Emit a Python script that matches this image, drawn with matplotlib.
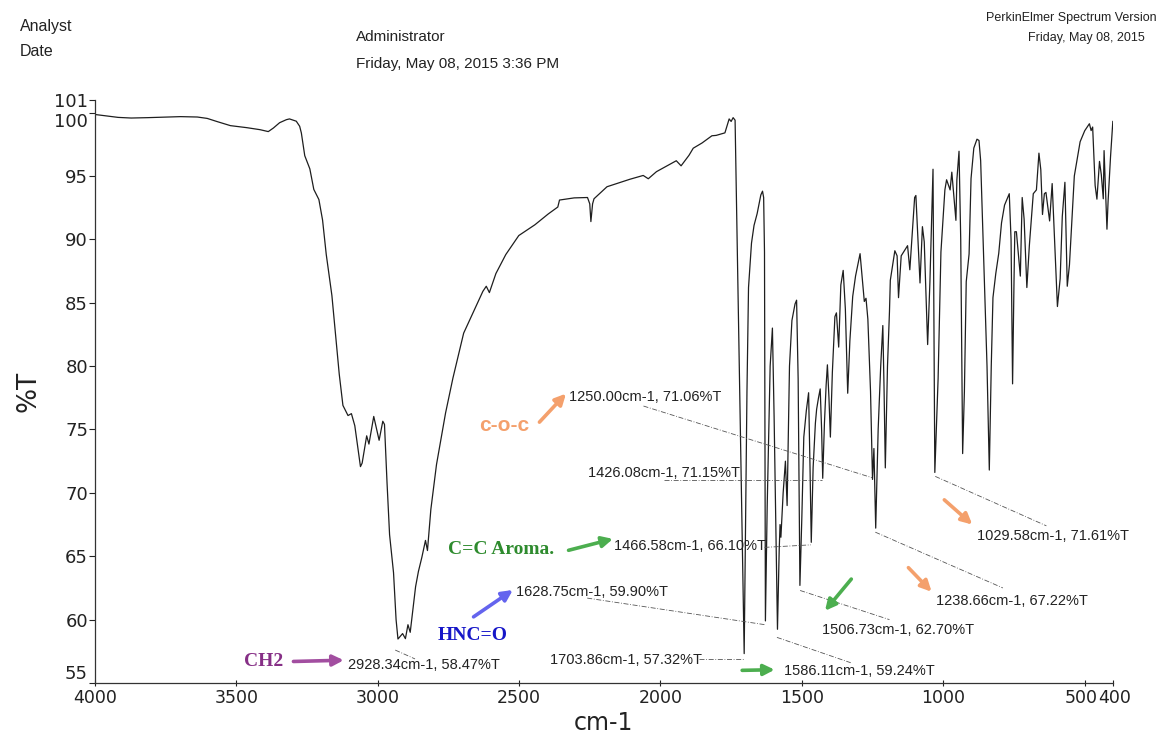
import matplotlib.pyplot as plt
from matplotlib.transforms import ScaledTranslation

# IR spectrum (wavenumber in cm-1, %T)
wavenumber = [
    4000, 3918, 3872, 3813, 3755, 3697, 3638, 3603, 3568, 3521, 3463, 3416, 3387,
    3369, 3347, 3323, 3312, 3288, 3276, 3270, 3258, 3240, 3226, 3208, 3195, 3182,
    3162, 3136, 3123, 3105, 3093, 3081, 3061, 3055, 3039, 3031, 3014, 2995, 2982,
    2976, 2967, 2958, 2944, 2935, 2928.34, 2912, 2902, 2893, 2885, 2877, 2866, 2856,
    2844, 2831, 2824, 2812, 2792, 2760, 2734, 2696, 2628, 2616, 2605, 2582, 2547,
    2501, 2444, 2397, 2363, 2357, 2305, 2258, 2250, 2246, 2240, 2235, 2189, 2108,
    2061, 2043, 2014, 1944, 1927, 1899, 1884, 1853, 1818, 1803, 1772, 1765, 1757,
    1750, 1743, 1736,
    1703.86, 1694, 1688.5, 1678, 1669, 1658, 1645, 1639, 1635, 1632, 1628.75,
    1622.5, 1612, 1604, 1598, 1586.11, 1580, 1577, 1574, 1566, 1558, 1552, 1546,
    1543.6, 1535, 1524, 1518.5, 1513, 1506.73, 1500, 1493, 1484, 1476, 1471,
    1466.58, 1460, 1452, 1447.6, 1441, 1435, 1430, 1426.08, 1420, 1414, 1409.5,
    1404, 1399, 1392, 1383, 1377.6, 1369.6, 1362, 1353.7, 1346, 1337.7, 1330,
    1320, 1310, 1294, 1279, 1273, 1266.4, 1257, 1250.00, 1245, 1238.66, 1230,
    1221, 1213.5, 1209, 1204.7, 1197, 1190, 1187, 1171, 1163, 1158, 1148.5, 1126,
    1118, 1101, 1096.6, 1082, 1073.5, 1067, 1055, 1047, 1036, 1029.58, 1018, 1008,
    994, 988, 975.5, 969.5, 955, 951.6, 944, 938, 931.2, 925, 918.5, 908.4, 901.5,
    891.7, 880.5, 873.4, 867.5, 854.3, 845, 836.9, 830, 824, 814, 803.5, 793.7,
    783, 777.4, 766.3, 760, 754.6, 749.5, 746.7, 741.1, 727.2, 720.6, 713.8, 704.1,
    695.3, 681.4, 670.3, 661.4, 654.8, 648.8, 642.2, 636.6, 623.6, 614.6, 596,
    586.3, 578.8, 569.5, 561.2, 553.4, 536.2, 515.7, 499.4, 482.9, 476.8, 471.4,
    462.6, 456.3, 447.2, 440.8, 433.8, 431, 420.8, 416.8, 408.2, 400,
]
transmittance = [
    99.85, 99.62, 99.57, 99.60, 99.64, 99.68, 99.65, 99.54, 99.29, 98.97, 98.81, 98.65, 98.50,
    98.78, 99.20, 99.44, 99.50, 99.32, 98.92, 98.39, 96.60, 95.56, 93.94, 93.14, 91.52, 88.81,
    85.57, 79.36, 76.90, 76.10, 76.25, 75.30, 72.07, 72.35, 74.50, 73.85, 76.03, 74.15, 75.65,
    75.40, 70.80, 66.70, 63.70, 60.00, 58.47, 58.90, 58.50, 59.60, 59.00, 60.50, 62.60, 63.80,
    64.90, 66.25, 65.45, 68.70, 72.24, 76.30, 79.05, 82.60, 85.90, 86.30, 85.80, 87.30, 88.80,
    90.30, 91.15, 92.00, 92.55, 93.10, 93.27, 93.30, 92.80, 91.40, 92.80, 93.20, 94.15, 94.74,
    95.04, 94.78, 95.34, 96.20, 95.80, 96.63, 97.19, 97.60, 98.17, 98.20, 98.40, 98.90, 99.50,
    99.30, 99.60, 99.40,
    57.32, 78.0, 86.2, 89.7, 91.1, 92.03, 93.5, 93.8, 93.3, 89.0, 59.90,
    68.9, 80.0, 83.0, 76.0, 59.24, 65.5, 67.5, 66.5, 70.0, 72.5, 69.0, 77.0,
    80.0, 83.6, 84.9, 85.2, 79.0, 62.70, 68.0, 74.4, 76.5, 77.9, 72.0,
    66.10, 72.0, 75.5, 76.6, 77.5, 78.2, 75.0, 71.15, 75.5, 78.5, 80.1,
    77.5, 74.4, 79.5, 83.9, 84.2, 81.5, 86.4, 87.55, 84.5, 77.86, 82.0,
    85.5, 87.1, 88.87, 85.1, 85.35, 83.7, 78.0, 71.06, 73.5, 67.22, 75.0,
    80.0, 83.2, 78.0, 71.97, 80.0, 84.3, 86.77, 89.1, 88.7, 85.4, 88.7, 89.5,
    87.6, 93.3, 93.46, 86.56, 91.0, 89.8, 81.7, 86.6, 95.53, 71.61, 79.0, 89.0,
    93.9, 94.7, 93.9, 95.3, 91.5, 94.7, 96.95, 90.0, 73.10, 78.0, 86.66, 88.85, 94.8,
    97.2, 97.9, 97.8, 96.2, 86.7, 80.0, 71.80, 80.0, 85.4, 87.3, 88.9, 91.3,
    92.7, 93.0, 93.6, 90.0, 78.60, 86.76, 90.6, 90.6, 87.1, 93.3, 91.6, 86.2,
    89.5, 93.6, 93.9, 96.8, 95.5, 91.96, 93.6, 93.7, 91.45, 94.4, 84.7,
    86.9, 91.8, 94.5, 86.3, 88.0, 95.0, 97.7, 98.57, 99.12, 98.58, 98.86,
    94.25, 93.17, 96.15, 95.1, 93.2, 97.0, 90.8, 93.0, 96.5, 99.3,
]

# peaks picked by the instrument software
peak_wn = [2928.34, 1703.86, 1628.75, 1586.11, 1506.73, 1466.58, 1426.08, 1250.00, 1238.66, 1029.58]
peak_T = [58.47, 57.32, 59.90, 59.24, 62.70, 66.10, 71.15, 71.06, 67.22, 71.61]

x_ticks = [4000, 3500, 3000, 2500, 2000, 1500, 1000, 500, 400]
y_ticks = [55, 60, 65, 70, 75, 80, 85, 90, 95, 100, 101]

PURPLE = '#a24ea0'
ORANGE = '#f4a06c'
GREEN = '#4cae4f'
BLUE = '#6464ee'

fig = plt.figure(figsize=(11.58, 7.4), dpi=100)
ax = fig.add_axes([0.082, 0.077, 0.879, 0.788])

ax.plot(wavenumber, transmittance, color='#1e1e1e', lw=0.9)

ax.set_xlim(4000, 400)
ax.set_ylim(55, 101)
ax.set_xticks(x_ticks)
ax.set_xticklabels([str(t) for t in x_ticks])
ax.set_yticks(y_ticks)
ax.set_yticklabels([str(t) for t in y_ticks])
for sp in ['top', 'right']:
    ax.spines[sp].set_visible(False)
for sp in ['left', 'bottom']:
    ax.spines[sp].set_color('#333333')
    ax.spines[sp].set_linewidth(0.9)
ax.tick_params(axis='y', direction='out', length=4, width=0.8, labelsize=13, pad=1, colors='#222222')
ax.tick_params(axis='x', direction='inout', length=5, width=0.8, labelsize=12.5, pad=2, colors='#222222')

# crowded corners, nudged like on the printout
yt = ax.yaxis.get_major_ticks()
yt[y_ticks.index(100)].label1.set_va('top')
yt[y_ticks.index(55)].label1.set_va('bottom')
xt = ax.xaxis.get_major_ticks()
lab500 = xt[x_ticks.index(500)].label1
lab400 = xt[x_ticks.index(400)].label1
lab500.set_transform(lab500.get_transform() + ScaledTranslation(-2.5 / 72, 0, fig.dpi_scale_trans))
lab400.set_transform(lab400.get_transform() + ScaledTranslation(1.5 / 72, 0, fig.dpi_scale_trans))

ax.set_ylabel('%T', fontsize=19, labelpad=9, color='#222222')
ax.set_xlabel('cm-1', fontsize=17, labelpad=3, color='#222222')

# peak labels: (label left x, label y, leader start, leader end)
label_layout = {
    2928.34: ((3105, 56.45), (2938, 57.6), (2868, 56.9)),
    1703.86: ((2392, 56.85), (1863, 56.9), (1706, 56.9)),
    1628.75: ((2512, 62.19), (2259, 61.7), (1630, 59.6)),
    1586.11: ((1564, 55.95), (1588, 58.6), (1327, 56.6)),
    1506.73: ((1427, 59.20), (1506, 62.3), (1190, 60.0)),
    1466.58: ((2165, 65.81), (1632, 65.7), (1468, 65.9)),
    1426.08: ((2256, 71.53), (1986, 71.0), (1428, 71.0)),
    1250.00: ((2324, 77.60), (2060, 76.85), (1252, 71.2)),
    1238.66: ((1026, 61.50), (1240, 66.9), (789, 62.5)),
    1029.58: ((880, 66.60), (1028, 71.3), (635, 67.4)),
}
for wn, t in zip(peak_wn, peak_T):
    (lx, ly), p0, p1 = label_layout[wn]
    ax.text(lx, ly, f'{wn:.2f}cm-1, {t:.2f}%T', fontsize=10.5, ha='left', va='center',
            color='#222222', family='Liberation Sans')
    ax.plot([p0[0], p1[0]], [p0[1], p1[1]], ls=(0, (6, 2, 1, 2)), lw=0.6, color='#555555')

# hand-drawn group assignments with coloured arrows
groups = [
    ('CH2', (3403, 56.7), PURPLE, '#862f86', 'serif', ((3298, 56.7), (3120, 56.8))),
    ('c-o-c', (2551, 75.3), ORANGE, ORANGE, 'sans', ((2428, 75.58), (2334, 77.83))),
    ('C=C Aroma.', (2562, 65.5), GREEN, '#2e8b2e', 'serif', ((2325, 65.47), (2168, 66.37))),
    ('HNC=O', (2663, 58.76), BLUE, '#1616c8', 'serif', ((2661, 60.22), (2522, 62.34))),
]
for text, pos, arrow_col, text_col, fam, (a0, a1) in groups:
    family = 'Liberation Serif' if fam == 'serif' else 'Liberation Sans'
    size = 14 if fam == 'serif' else 15
    ax.text(pos[0], pos[1], text, fontsize=size, fontweight='bold', color=text_col,
            family=family, ha='center', va='center')
    ax.annotate('', xy=a1, xytext=a0,
                arrowprops=dict(arrowstyle='-|>', color=arrow_col, lw=2.6, mutation_scale=16,
                                shrinkA=0, shrinkB=0))

extra_arrows = [
    (GREEN, (1711, 56.0), (1596, 56.05)),
    (GREEN, (1325, 63.2), (1418, 60.7)),
    (ORANGE, (1123, 64.1), (1041, 62.2)),
    (ORANGE, (996, 69.45), (897, 67.5)),
]
for col, a0, a1 in extra_arrows:
    ax.annotate('', xy=a1, xytext=a0, annotation_clip=False,
                arrowprops=dict(arrowstyle='-|>', color=col, lw=2.6, mutation_scale=16,
                                shrinkA=0, shrinkB=0))

# printout header
W, H = 1158, 740
hdr = dict(color='#222222', family='Liberation Sans')
fig.text(20 / W, 1 - 27 / H, 'Analyst', fontsize=11.5, va='center', **hdr)
fig.text(20 / W, 1 - 52 / H, 'Date', fontsize=11.5, va='center', **hdr)
fig.text(356 / W, 1 - 37 / H, 'Administrator', fontsize=11, va='center', **hdr)
fig.text(356 / W, 1 - 64 / H, 'Friday, May 08, 2015 3:36 PM', fontsize=11, va='center', **hdr)
fig.text(1157 / W, 1 - 18 / H, 'PerkinElmer Spectrum Version', fontsize=9, va='center', ha='right', **hdr)
fig.text(1145 / W, 1 - 38 / H, 'Friday, May 08, 2015', fontsize=9, va='center', ha='right', **hdr)

fig.savefig('out.png', dpi=100, facecolor='white')
